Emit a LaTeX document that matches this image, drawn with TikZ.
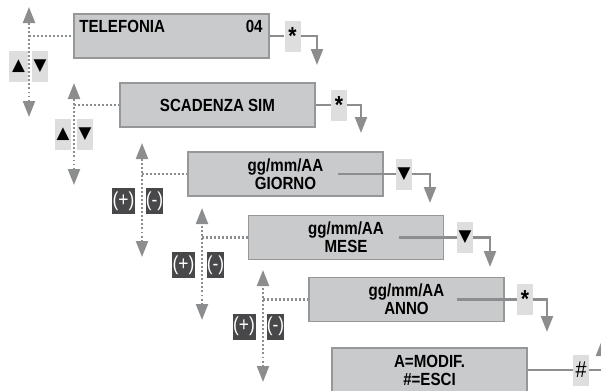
\documentclass[tikz,border=0pt]{standalone}
\usepackage{fontspec}
\setmainfont{Liberation Sans}[FakeStretch=0.86]
\newfontfamily\keysym{DejaVu Sans}
\usetikzlibrary{arrows.meta}
\definecolor{lcdb}{RGB}{201,202,204}
\definecolor{lcdf}{RGB}{150,151,153}
\definecolor{wire}{RGB}{140,141,143}
\definecolor{keyb}{RGB}{222,222,223}
\definecolor{keyd}{RGB}{72,72,74}

\begin{document}
\begin{tikzpicture}[
  x=0.02cm, y=-0.02cm,
  font=\fontsize{10}{10.2}\selectfont\bfseries,
  every node/.style={inner sep=0pt},
  lcd/.style={draw=lcdf, fill=lcdb, line width=1.1pt,
              minimum width=3.9cm, minimum height=0.88cm, align=center},
  key/.style={fill=keyb, minimum width=0.32cm, minimum height=0.62cm},
  star/.style={key, font=\fontsize{14}{14}\selectfont\bfseries},
  pm/.style={fill=keyd, text=white, minimum height=0.52cm,
             font=\fontsize{11.5}{11.5}\selectfont},
  link/.style={wire, line width=1.3pt},
  walk/.style={link, -{Triangle[length=0.32cm, width=0.24cm]}},
  tap/.style={wire, line width=1.2pt, dash pattern=on 1.1pt off 1.2pt},
  scroll/.style={tap, {Triangle[length=0.32cm, width=0.24cm]}-{Triangle[length=0.32cm, width=0.24cm]}},
  up/.style={key, font=\fontsize{9.5}{9.5}\selectfont\keysym},
]
\useasboundingbox (0,0) rectangle (601,390);

%% ---- display steps ----
\node[lcd] (tel) at (171.5,36) {};
\node[anchor=base west] (telname) at ([shift={(6,19)}]tel.north west) {TELEFONIA};
\node[anchor=base east] (telnum) at ([shift={(-7,19)}]tel.north east) {04};
\node[lcd] (scad) at (217.5,105) {SCADENZA SIM};
\node[lcd] (gio) at (285.5,174) {gg/mm/AA\\GIORNO};
\node[lcd] (mes) at (346,237.5) {gg/mm/AA\\MESE};
\node[lcd] (ann) at (406.5,299.5) {gg/mm/AA\\ANNO};
\node[lcd] (mod) at (429.5,370) {A=MODIF.\\\#=ESCI};

%% ---- keys to the next step ----
\node[star] (k1) at (292.5,36) {*};
\node[star] (k2) at (339,105) {*};
\node[up] (k3) at (404,174) {▼};
\node[up] (k4) at (465,237.5) {▼};
\node[star] (k5) at (525,299.5) {*};
\node[key, font=\fontsize{13}{13}\selectfont] (k6) at (581,370) {\#};

\coordinate (fall1) at (317,65);
\coordinate (fall2) at (361,133);
\coordinate (fall3) at (430,203);
\coordinate (fall4) at (490,267);
\coordinate (fall5) at (547,332);
\coordinate (rise6) at (602,340);

\coordinate (gio-o) at (338,174);
\coordinate (mes-o) at (399,237.5);
\coordinate (ann-o) at (457,299.5);

\draw[link] (tel.east) -- (k1.west);
\draw[walk] (k1.east) -| (fall1);
\draw[link] (scad.east) -- (k2.west);
\draw[walk] (k2.east) -| (fall2);
\draw[link] (gio-o) -- (k3.west);
\draw[walk] (k3.east) -| (fall3);
\draw[link] (mes-o) -- (k4.west);
\draw[walk] (k4.east) -| (fall4);
\draw[link] (ann-o) -- (k5.west);
\draw[walk] (k5.east) -| (fall5);
\draw[link] (mod.east) -- (k6.west);
\draw[walk] (k6.east) -| (rise6);

%% ---- scrolling inside a step ----
\coordinate (top1) at (29,7);    \coordinate (bot1) at (29,117);
\coordinate (top2) at (74,83);   \coordinate (bot2) at (74,185);
\coordinate (top3) at (142,143); \coordinate (bot3) at (142,257);
\coordinate (top4) at (202,208); \coordinate (bot4) at (202,320);
\coordinate (top5) at (263,270); \coordinate (bot5) at (263,382);

\draw[scroll] (bot1) -- (top1);
\draw[tap] (top1 |- tel.west) -- (tel.west);
\draw[scroll] (bot2) -- (top2);
\draw[tap] (top2 |- scad.west) -- (scad.west);
\draw[scroll] (bot3) -- (top3);
\draw[tap] (top3 |- gio.west) -- (gio.west);
\draw[scroll] (bot4) -- (top4);
\draw[tap] (top4 |- mes.west) -- (mes.west);
\draw[scroll] (bot5) -- (top5);
\draw[tap] (top5 |- ann.west) -- (ann.west);

\node[up, minimum width=0.38cm] (u1) at (18.5,66) {▲};
\node[up] (d1) at (40,66) {▼};
\node[up] (u2) at (63,134) {▲};
\node[up] (d2) at (85,134) {▼};

\node[pm, minimum width=0.46cm] (p3) at (123.5,201) {(+)};
\node[pm, minimum width=0.34cm] (m3) at (154.5,201) {(-)};
\node[pm, minimum width=0.46cm] (p4) at (183.5,265) {(+)};
\node[pm, minimum width=0.34cm] (m4) at (215.5,265) {(-)};
\node[pm, minimum width=0.46cm] (p5) at (244,326.5) {(+)};
\node[pm, minimum width=0.34cm] (m5) at (275.5,326.5) {(-)};

\end{tikzpicture}
\end{document}
